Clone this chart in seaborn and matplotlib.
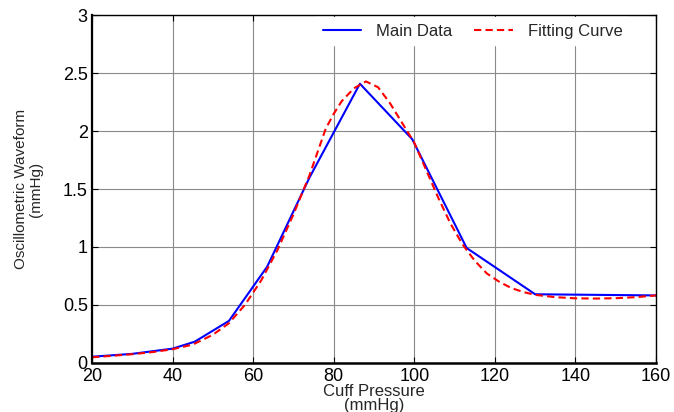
import matplotlib
matplotlib.use("Agg")
import matplotlib.pyplot as plt
import seaborn as sns
import pandas as pd

# Measured oscillation amplitudes at each cuff pressure step
cuff_pressure = [20, 30, 40, 45.5, 54, 63.5, 74, 86.5, 99.5, 113, 130, 160]
amplitude = [0.05, 0.075, 0.12, 0.18, 0.36, 0.83, 1.6, 2.41, 1.93, 0.99, 0.59, 0.58]

# Fitted envelope sampled along the pressure range
fit_pressure = [20, 25, 30, 35, 40, 45, 50, 54, 58, 62, 66, 70, 74, 78, 80, 82,
                85, 88, 91, 94, 97, 100, 103, 106, 109, 112, 115, 118, 121, 124,
                127, 130, 135, 140, 145, 150, 155, 160]
fit_amplitude = [0.045, 0.058, 0.072, 0.09, 0.115, 0.155, 0.24, 0.34, 0.5, 0.71,
                 0.97, 1.28, 1.62, 2.02, 2.15, 2.26, 2.37, 2.43, 2.38, 2.24, 2.07,
                 1.9, 1.66, 1.42, 1.2, 1.02, 0.88, 0.77, 0.7, 0.645, 0.61, 0.585,
                 0.565, 0.555, 0.553, 0.556, 0.565, 0.58]

x_ticks = [20, 40, 60, 80, 100, 120, 140, 160]
y_ticks = [0, 0.5, 1, 1.5, 2, 2.5, 3]
y_tick_labels = ["0", "0.5", "1", "1.5", "2", "2.5", "3"]

sns.set_theme(style="white")
plt.rcParams["font.family"] = ["Liberation Sans", "DejaVu Sans"]

main_df = pd.DataFrame({"p": cuff_pressure, "a": amplitude})
fit_df = pd.DataFrame({"p": fit_pressure, "a": fit_amplitude})

fig = plt.figure(figsize=(6.74, 4.12), dpi=100)
ax = fig.add_axes([0.1365, 0.1201, 0.8368, 0.8423])

sns.lineplot(data=main_df, x="p", y="a", ax=ax, color="#0000ff", linewidth=1.5,
             sort=False, estimator=None, label="Main Data")
sns.lineplot(data=fit_df, x="p", y="a", ax=ax, color="#ff0000", linewidth=1.5,
             sort=False, estimator=None, label="Fitting Curve", dashes=False)
ax.lines[-1].set_dashes([3.5, 2])

ax.set_xlim(20, 160)
ax.set_ylim(0, 3)
ax.set_xticks(x_ticks)
ax.set_xticklabels([str(t) for t in x_ticks])
ax.set_yticks(y_ticks)
ax.set_yticklabels(y_tick_labels)

ax.grid(True, color="#8a8a8a", linewidth=0.8, linestyle="-")
ax.set_axisbelow(True)
for side in ["left", "bottom", "right", "top"]:
    ax.spines[side].set_visible(True)
    ax.spines[side].set_color("black")
    ax.spines[side].set_linewidth(1.0)
ax.spines["left"].set_linewidth(1.6)
ax.spines["bottom"].set_linewidth(1.8)

ax.tick_params(direction="in", length=4, width=0.8, colors="black",
               labelsize=13, top=True, right=True, bottom=True, left=True,
               labeltop=False, labelright=False)
ax.tick_params(axis="x", pad=4)
ax.tick_params(axis="y", pad=3)

ax.set_xlabel("Cuff Pressure\n(mmHg)", fontsize=12, labelpad=-1, linespacing=0.95)
ax.set_ylabel("Oscillometric Waveform\n(mmHg)", fontsize=11, labelpad=14,
              linespacing=1.15)

leg = ax.legend(loc="upper right", bbox_to_anchor=(0.955, 1.0), ncol=2,
                fontsize=12, frameon=True, facecolor="white", edgecolor="white",
                framealpha=1, fancybox=False, handlelength=2.3,
                handletextpad=0.9, columnspacing=1.3, borderpad=0.4,
                borderaxespad=0.1)

fig.savefig("out.png", dpi=100)
